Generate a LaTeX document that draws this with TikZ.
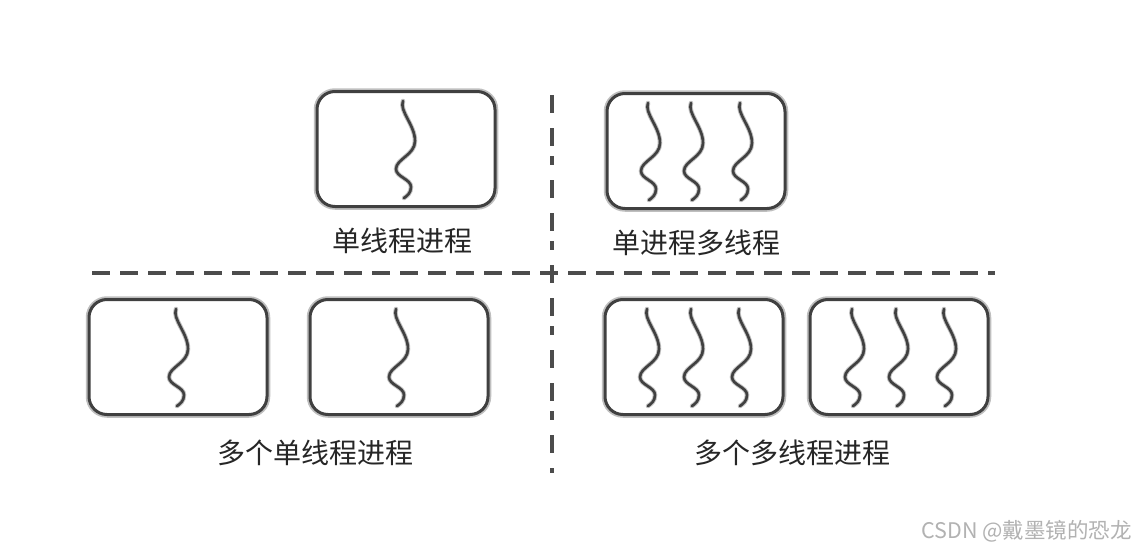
\documentclass[tikz,border=0pt]{standalone}
\usepackage{fontspec}
\setmainfont{Noto Sans CJK SC}
\usepackage{tikz}
\usetikzlibrary{positioning}

\tikzset{
  threadpic/.pic={
    \draw[threadline] (0,0) .. controls (-4,10) and (12,24) .. (12,40)
      .. controls (12,54) and (-7,58) .. (-7,68)
      .. controls (-7,76) and (8,78) .. (8,86)
      .. controls (8,92) and (4,95) .. (1,97);
  }
}

\begin{document}
\begin{tikzpicture}[
  x=1pt, y=-1pt,
  proc/.style={draw=black!75, line width=3pt, rounded corners=18pt, fill=white, minimum width=178pt, minimum height=115pt, inner sep=0pt, preaction={draw=black!25, line width=6.5pt}},
  threadline/.style={line width=2.6pt, black!75, line cap=round, preaction={draw=black!25, line width=4.5pt, line cap=round}},
  divider/.style={line width=3.5pt, black!70},
  caption/.style={font=\fontsize{28}{32}\selectfont, text=black!85, inner sep=0pt}
]

% Canvas
\fill[white] (0,0) rectangle (1136,552);
\useasboundingbox (0,0) rectangle (1136,552);

% === Dividers ===
\coordinate (hl) at (92,273);
\coordinate (hr) at (995,273);
\coordinate (vt) at (552,95);
\coordinate (vb) at (552,473);

\draw[divider, dash pattern=on 18pt off 10pt] (hl) -- (hr);
\draw[divider, dash pattern=on 18pt off 15pt on 18pt off 10pt on 9pt off 15pt] (vt) -- (vb);

% === Single-thread process ===
\node[proc] (st) at (406,149) {};
\pic at ([shift={(-3,-48)}]st.center) {threadpic};
\node[caption] (stcap) at (402,241) {单线程进程};

% === Single process, multiple threads ===
\node[proc] (mt) at (696,151) {};
\pic at ([shift={(-48,-48)}]mt.center) {threadpic};
\pic at ([shift={(-5,-48)}]mt.center) {threadpic};
\pic at ([shift={(44,-48)}]mt.center) {threadpic};
\node[caption] (mtcap) at (696,243) {单进程多线程};

% === Several single-thread processes ===
\node[proc] (sa) at (178,357) {};
\node[proc] (sb) at (399,357) {};
\pic at ([shift={(-2,-48)}]sa.center) {threadpic};
\pic at ([shift={(-3,-48)}]sb.center) {threadpic};
\node[caption] (scap) at (315,453) {多个单线程进程};

% === Several multi-thread processes ===
\node[proc] (ma) at (694,357) {};
\node[proc] (mb) at (899,357) {};
\pic at ([shift={(-47,-48)}]ma.center) {threadpic};
\pic at ([shift={(-3,-48)}]ma.center) {threadpic};
\pic at ([shift={(45,-48)}]ma.center) {threadpic};
\pic at ([shift={(-47,-48)}]mb.center) {threadpic};
\pic at ([shift={(-3,-48)}]mb.center) {threadpic};
\pic at ([shift={(45,-48)}]mb.center) {threadpic};
\node[caption] (mcap) at (792,453) {多个多线程进程};

% Watermark
\node[font=\fontsize{21.5}{25}\selectfont, text=black!30, anchor=east, inner sep=0pt] (mark) at (1132,531) {CSDN @戴墨镜的恐龙};

\end{tikzpicture}
\end{document}
